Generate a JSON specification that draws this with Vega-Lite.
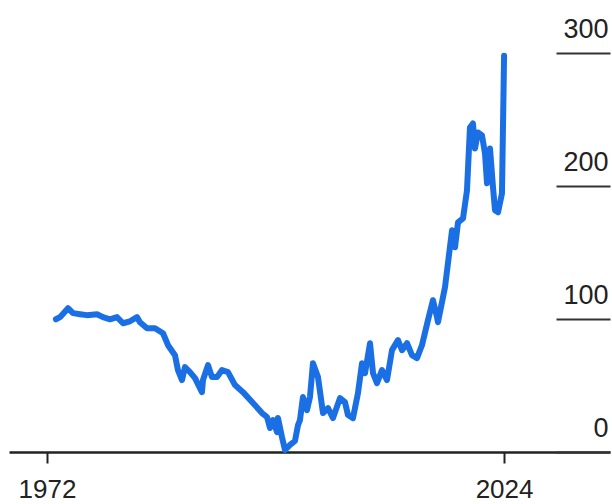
{
  "$schema": "https://vega.github.io/schema/vega-lite/v6.json",
  "width": 601,
  "height": 399,
  "autosize": {"type": "none"},
  "padding": {"left": 9, "top": 53, "right": 2, "bottom": 52},
  "background": "white",
  "config": {"view": {"stroke": null}},
  "data": {"values": [
    {"year": 1973.02, "value": 99.8},
    {"year": 1973.48, "value": 101.4},
    {"year": 1974.39, "value": 108.1},
    {"year": 1974.96, "value": 104.4},
    {"year": 1975.75, "value": 103.6},
    {"year": 1976.55, "value": 102.9},
    {"year": 1977.69, "value": 103.6},
    {"year": 1978.37, "value": 101.4},
    {"year": 1979.17, "value": 99.8},
    {"year": 1979.96, "value": 101.4},
    {"year": 1980.65, "value": 96.8},
    {"year": 1981.44, "value": 98.3},
    {"year": 1982.24, "value": 101.4},
    {"year": 1982.58, "value": 97.6},
    {"year": 1983.38, "value": 93.1},
    {"year": 1984.29, "value": 93.1},
    {"year": 1985.2, "value": 89.3},
    {"year": 1985.77, "value": 80.3},
    {"year": 1986.56, "value": 72.8},
    {"year": 1986.9, "value": 61.6},
    {"year": 1987.36, "value": 54.1},
    {"year": 1987.7, "value": 63.8},
    {"year": 1988.27, "value": 60.1},
    {"year": 1988.84, "value": 55.6},
    {"year": 1989.63, "value": 45.0},
    {"year": 1989.75, "value": 54.1},
    {"year": 1990.32, "value": 65.3},
    {"year": 1990.77, "value": 56.3},
    {"year": 1991.34, "value": 56.3},
    {"year": 1991.91, "value": 61.6},
    {"year": 1992.59, "value": 60.1},
    {"year": 1993.39, "value": 50.3},
    {"year": 1994.3, "value": 45.0},
    {"year": 1995.44, "value": 36.8},
    {"year": 1996.46, "value": 29.3},
    {"year": 1997.03, "value": 26.3},
    {"year": 1997.37, "value": 18.0},
    {"year": 1997.71, "value": 24.0},
    {"year": 1998.17, "value": 15.0},
    {"year": 1998.28, "value": 25.5},
    {"year": 1998.73, "value": 11.3},
    {"year": 1999.08, "value": 1.5},
    {"year": 1999.65, "value": 5.3},
    {"year": 2000.21, "value": 8.3},
    {"year": 2000.56, "value": 20.3},
    {"year": 2000.78, "value": 24.0},
    {"year": 2001.12, "value": 41.3},
    {"year": 2001.58, "value": 31.5},
    {"year": 2001.92, "value": 41.3},
    {"year": 2002.26, "value": 66.8},
    {"year": 2002.83, "value": 56.3},
    {"year": 2003.4, "value": 29.3},
    {"year": 2003.97, "value": 33.0},
    {"year": 2004.54, "value": 25.5},
    {"year": 2005.33, "value": 40.5},
    {"year": 2005.9, "value": 37.5},
    {"year": 2006.24, "value": 27.8},
    {"year": 2006.81, "value": 25.5},
    {"year": 2007.38, "value": 44.3},
    {"year": 2007.84, "value": 66.8},
    {"year": 2008.18, "value": 59.3},
    {"year": 2008.75, "value": 81.8},
    {"year": 2009.09, "value": 59.3},
    {"year": 2009.54, "value": 51.8},
    {"year": 2010.11, "value": 61.6},
    {"year": 2010.68, "value": 54.1},
    {"year": 2011.25, "value": 76.6},
    {"year": 2011.93, "value": 84.1},
    {"year": 2012.39, "value": 76.6},
    {"year": 2012.96, "value": 81.8},
    {"year": 2013.52, "value": 72.8},
    {"year": 2014.09, "value": 70.6},
    {"year": 2014.66, "value": 80.3},
    {"year": 2015.34, "value": 99.1},
    {"year": 2015.91, "value": 114.1},
    {"year": 2016.37, "value": 101.4},
    {"year": 2016.48, "value": 97.6},
    {"year": 2017.28, "value": 123.9},
    {"year": 2018.08, "value": 166.7},
    {"year": 2018.42, "value": 153.9},
    {"year": 2018.76, "value": 172.7},
    {"year": 2019.33, "value": 175.7},
    {"year": 2019.78, "value": 196.7},
    {"year": 2020.12, "value": 244.0},
    {"year": 2020.46, "value": 247.0},
    {"year": 2020.69, "value": 228.2},
    {"year": 2021.03, "value": 240.2},
    {"year": 2021.49, "value": 238.0},
    {"year": 2021.83, "value": 224.5},
    {"year": 2022.06, "value": 202.0},
    {"year": 2022.4, "value": 228.2},
    {"year": 2022.74, "value": 199.0},
    {"year": 2022.97, "value": 181.7},
    {"year": 2023.31, "value": 180.2},
    {"year": 2023.76, "value": 194.4},
    {"year": 2024.0, "value": 298.0}
  ]},
  "mark": {"type": "line", "color": "#1b6fe4", "strokeWidth": 6, "strokeJoin": "round", "strokeCap": "round"},
  "encoding": {
    "x": {
      "field": "year",
      "type": "quantitative",
      "scale": {"domain": [1967.68, 2036.05], "nice": false, "zero": false},
      "axis": {
        "title": null,
        "values": [1972, 2024],
        "format": "d",
        "grid": false,
        "domain": true,
        "domainColor": "#222222",
        "domainWidth": 2.5,
        "ticks": true,
        "tickSize": 11,
        "tickWidth": 2,
        "tickColor": "#222222",
        "labelFont": "Liberation Sans",
        "labelFontSize": 26,
        "labelColor": "#222222",
        "labelPadding": 13,
        "labelFlush": false
      }
    },
    "y": {
      "field": "value",
      "type": "quantitative",
      "scale": {"domain": [0, 300], "nice": false},
      "axis": {
        "title": null,
        "orient": "right",
        "values": [0, 100, 200, 300],
        "grid": false,
        "domain": false,
        "ticks": true,
        "tickSize": -54,
        "tickWidth": 2,
        "tickColor": "#333333",
        "labelFont": "Liberation Sans",
        "labelFontSize": 27,
        "labelColor": "#222222",
        "labelAlign": "right",
        "labelBaseline": "alphabetic",
        "labelPadding": 52,
        "labelOffset": -16,
        "labelFlush": false
      }
    }
  }
}
